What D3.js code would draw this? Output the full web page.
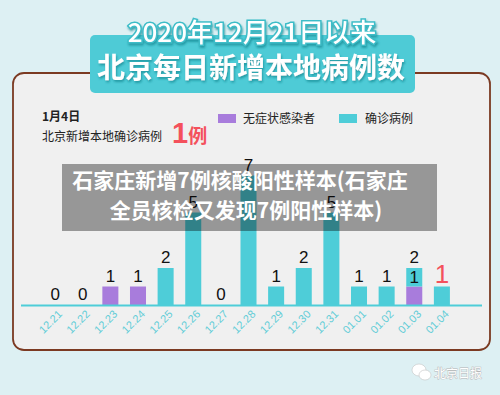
<!DOCTYPE html>
<html>
<head>
<meta charset="utf-8">
<script src="https://cdn.jsdelivr.net/npm/d3@7"></script>
<style>
  html, body { margin: 0; padding: 0; background: #ddf0f3; }
  svg { display: block; }
</style>
</head>
<body>
<div id="chart"></div>
<script>
// datos
const dates = ["12.21", "12.22", "12.23", "12.24", "12.25", "12.26", "12.27", "12.28",
  "12.29", "12.30", "12.31", "01.01", "01.02", "01.03", "01.04"];
const confirmed = [0, 0, 0, 0, 2, 5, 0, 7, 1, 2, 5, 1, 1, 1, 1];
const asymptomatic = [0, 0, 1, 1, 0, 0, 0, 0, 0, 0, 0, 0, 0, 1, 0];
const legendLabels = ["无症状感染者", "确诊病例"];
const titleLines = ["2020年12月21日以来", "北京每日新增本地病例数"];
const overlayLines = ["石家庄新增7例核酸阳性样本(石家庄", "全员核检又发现7例阳性样本)"];

const width = 500, height = 395;
const teal = "#4ecdd8", purple = "#a87cdc", red = "#f4515c";
const cjk = "'Noto Sans CJK SC', 'Noto Sans', sans-serif";
const num = "'Liberation Sans', Arial, sans-serif";

const svg = d3.select("#chart").append("svg")
  .attr("width", width)
  .attr("height", height);

const defs = svg.append("defs");
const shadow = defs.append("filter").attr("id", "tshadow")
  .attr("x", "-10%").attr("y", "-20%").attr("width", "120%").attr("height", "150%");
shadow.append("feDropShadow")
  .attr("dx", 1).attr("dy", 2).attr("stdDeviation", 1)
  .attr("flood-color", "#1f8f99").attr("flood-opacity", 0.8);

// fondo
svg.append("rect").attr("width", width).attr("height", height).attr("fill", "#ddf0f3");

// panel
svg.append("rect")
  .attr("x", 13).attr("y", 73).attr("width", 477).attr("height", 277)
  .attr("rx", 11)
  .attr("fill", "#f0f0f0")
  .attr("stroke", "#7b3a22")
  .attr("stroke-width", 1.8);

// caja del titulo
svg.append("rect")
  .attr("x", 90).attr("y", 35).attr("width", 325).attr("height", 58)
  .attr("rx", 5)
  .attr("fill", "#4ecbd6");

svg.append("text")
  .attr("x", 252).attr("y", 42)
  .attr("text-anchor", "middle")
  .attr("font-family", cjk)
  .attr("font-size", 26)
  .attr("font-weight", 500)
  .attr("fill", "#fff")
  .attr("stroke", "#3dbdc8").attr("stroke-width", 3).attr("paint-order", "stroke")
  .attr("filter", "url(#tshadow)")
  .text(titleLines[0]);

svg.append("text")
  .attr("x", 251).attr("y", 78)
  .attr("text-anchor", "middle")
  .attr("font-family", cjk)
  .attr("font-size", 28)
  .attr("font-weight", 700)
  .attr("fill", "#fff")
  .attr("filter", "url(#tshadow)")
  .text(titleLines[1]);

// dato destacado
const last = dates.length - 1;
svg.append("text")
  .attr("x", 42).attr("y", 121)
  .attr("font-family", cjk).attr("font-size", 12).attr("font-weight", 700)
  .attr("fill", "#222")
  .text("1月4日");
svg.append("text")
  .attr("x", 42).attr("y", 141)
  .attr("font-family", cjk).attr("font-size", 12)
  .attr("fill", "#222")
  .text("北京新增本地确诊病例");
const big = svg.append("text")
  .attr("x", 172).attr("y", 143)
  .attr("font-family", cjk).attr("font-weight", 700)
  .attr("fill", red);
big.append("tspan").attr("font-family", num).attr("font-size", 29)
  .text(confirmed[last] + asymptomatic[last]);
big.append("tspan").attr("font-size", 19).text("例");

// leyenda
const legend = svg.append("g");
[[purple, 218, 243], [teal, 339, 365]].forEach((d, i) => {
  legend.append("rect")
    .attr("x", d[1]).attr("y", 114).attr("width", 18).attr("height", 9)
    .attr("fill", d[0]);
  legend.append("text")
    .attr("x", d[2]).attr("y", 123)
    .attr("font-family", cjk).attr("font-size", 12)
    .attr("fill", "#222")
    .text(legendLabels[i]);
});

// escalas
const x = d3.scaleBand()
  .domain(dates)
  .range([35.5, 461.5])
  .padding(0.42);

const y = d3.scaleLinear()
  .domain([0, 7])
  .range([305, 175.5]);

const bars = svg.append("g");

// barras de asintomaticos (abajo)
bars.selectAll(".asym")
  .data(dates)
  .enter().append("rect")
  .attr("class", "asym")
  .attr("x", d => x(d))
  .attr("width", x.bandwidth())
  .attr("y", (d, i) => y(asymptomatic[i]))
  .attr("height", (d, i) => y(0) - y(asymptomatic[i]))
  .attr("fill", purple);

// barras de confirmados (apiladas encima)
bars.selectAll(".conf")
  .data(dates)
  .enter().append("rect")
  .attr("class", "conf")
  .attr("x", d => x(d))
  .attr("width", x.bandwidth())
  .attr("y", (d, i) => y(asymptomatic[i] + confirmed[i]))
  .attr("height", (d, i) => y(asymptomatic[i]) - y(asymptomatic[i] + confirmed[i]))
  .attr("fill", teal);

// linea base
svg.append("line")
  .attr("x1", 21).attr("x2", 482)
  .attr("y1", y(0) + 0.5).attr("y2", y(0) + 0.5)
  .attr("stroke", teal).attr("stroke-width", 2);

// etiquetas de valor
svg.selectAll(".val")
  .data(dates)
  .enter().append("text")
  .attr("class", "val")
  .attr("x", d => x(d) + x.bandwidth() / 2)
  .attr("y", (d, i) => y(asymptomatic[i] + confirmed[i]) - (i === last ? 4 : 5))
  .attr("text-anchor", "middle")
  .attr("font-family", num)
  .attr("font-size", (d, i) => i === last ? 26 : 17)
  .attr("fill", (d, i) => i === last ? red : "#111")
  .text((d, i) => asymptomatic[i] + confirmed[i]);

// etiqueta interior cuando hay las dos series
svg.selectAll(".inner")
  .data(dates.filter((d, i) => confirmed[i] > 0 && asymptomatic[i] > 0))
  .enter().append("text")
  .attr("class", "inner")
  .attr("x", d => x(d) + x.bandwidth() / 2)
  .attr("y", d => y(asymptomatic[dates.indexOf(d)]) - 4)
  .attr("text-anchor", "middle")
  .attr("font-family", num)
  .attr("font-size", 17)
  .attr("fill", "#111")
  .text(d => confirmed[dates.indexOf(d)]);

// eje x con etiquetas giradas
const xAxis = svg.append("g")
  .attr("transform", `translate(0,${y(0)})`)
  .call(d3.axisBottom(x).tickSize(0).tickPadding(0));
xAxis.select(".domain").remove();
xAxis.selectAll(".tick text")
  .attr("font-family", num)
  .attr("font-size", 11)
  .attr("fill", "#62cdd7")
  .attr("text-anchor", "end")
  .attr("transform", "translate(5,7) rotate(-45)")
  .attr("dy", "0.35em")
  .attr("y", 0);

// banda gris del titular superpuesto
svg.append("rect")
  .attr("x", 62).attr("y", 164).attr("width", 375).attr("height", 67)
  .attr("fill", "rgba(0,0,0,0.37)");
svg.append("text")
  .attr("x", 240).attr("y", 188)
  .attr("text-anchor", "middle")
  .attr("font-family", cjk).attr("font-size", 21).attr("font-weight", 700)
  .attr("fill", "#fff")
  .text(overlayLines[0]);
svg.append("text")
  .attr("x", 246).attr("y", 218)
  .attr("text-anchor", "middle")
  .attr("font-family", cjk).attr("font-size", 21).attr("font-weight", 700)
  .attr("fill", "#fff")
  .text(overlayLines[1]);

// marca de agua
const wm = svg.append("g").attr("fill", "#fff").attr("stroke", "#c4c4c4").attr("stroke-width", 0.6);
wm.append("ellipse").attr("cx", 419).attr("cy", 370).attr("rx", 7).attr("ry", 6);
wm.append("ellipse").attr("cx", 425).attr("cy", 375).attr("rx", 6).attr("ry", 5);
svg.append("text")
  .attr("x", 434).attr("y", 378)
  .attr("font-family", cjk).attr("font-size", 12)
  .attr("fill", "#fff")
  .attr("stroke", "#b5b5b5").attr("stroke-width", 0.8).attr("paint-order", "stroke")
  .text("北京日报");
</script>
</body>
</html>
